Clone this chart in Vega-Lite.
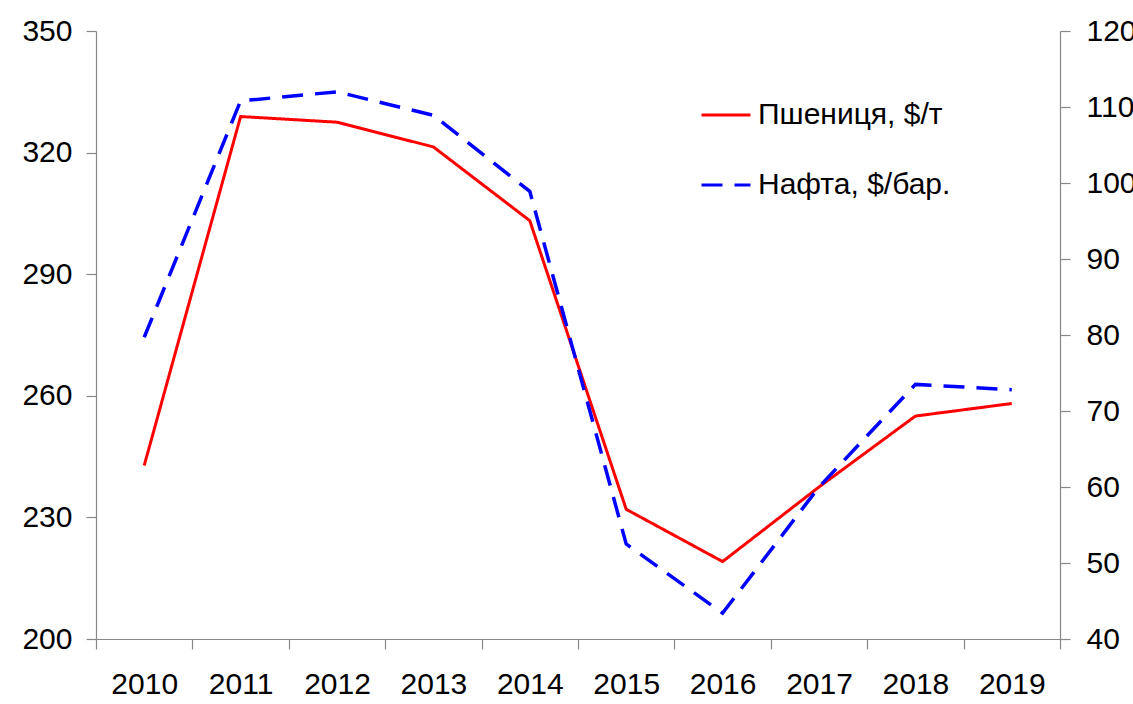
{
  "$schema": "https://vega.github.io/schema/vega-lite/v6.json",
  "width": 964,
  "height": 608,
  "autosize": {"type": "none"},
  "padding": {"left": 96, "top": 31, "right": 73, "bottom": 65},
  "background": "white",
  "config": {
    "view": {"stroke": null},
    "font": "Liberation Sans",
    "axis": {
      "labelFont": "Liberation Sans",
      "labelFontSize": 30,
      "labelColor": "black",
      "domainColor": "#888888",
      "tickColor": "#888888",
      "domainWidth": 1.2,
      "tickWidth": 1.2,
      "tickSize": 10,
      "grid": false,
      "title": null
    }
  },
  "data": {
    "values": [
      {"year": "2010", "series": "Пшениця, $/т", "value": 242.8},
      {"year": "2011", "series": "Пшениця, $/т", "value": 328.9},
      {"year": "2012", "series": "Пшениця, $/т", "value": 327.5},
      {"year": "2013", "series": "Пшениця, $/т", "value": 321.4},
      {"year": "2014", "series": "Пшениця, $/т", "value": 303.2},
      {"year": "2015", "series": "Пшениця, $/т", "value": 232.0},
      {"year": "2016", "series": "Пшениця, $/т", "value": 219.1},
      {"year": "2017", "series": "Пшениця, $/т", "value": 237.5},
      {"year": "2018", "series": "Пшениця, $/т", "value": 255.0},
      {"year": "2019", "series": "Пшениця, $/т", "value": 258.1},
      {"year": "2010", "series": "Нафта, $/бар.", "value": 79.7},
      {"year": "2011", "series": "Нафта, $/бар.", "value": 110.8},
      {"year": "2012", "series": "Нафта, $/бар.", "value": 112.0},
      {"year": "2013", "series": "Нафта, $/бар.", "value": 108.9},
      {"year": "2014", "series": "Нафта, $/бар.", "value": 98.9},
      {"year": "2015", "series": "Нафта, $/бар.", "value": 52.5},
      {"year": "2016", "series": "Нафта, $/бар.", "value": 43.4},
      {"year": "2017", "series": "Нафта, $/бар.", "value": 60.0},
      {"year": "2018", "series": "Нафта, $/бар.", "value": 73.5},
      {"year": "2019", "series": "Нафта, $/бар.", "value": 72.8}
    ]
  },
  "encoding": {
    "x": {
      "field": "year",
      "type": "ordinal",
      "bandPosition": 0.5,
      "scale": {"type": "band", "paddingInner": 0, "paddingOuter": 0},
      "axis": {"labelAngle": 0, "tickBand": "extent", "labelPadding": 20, "labelBaseline": "top"}
    },
    "color": {
      "field": "series",
      "type": "nominal",
      "scale": {"domain": ["Пшениця, $/т", "Нафта, $/бар."], "range": ["#ff0000", "#0000ff"]},
      "legend": {
        "orient": "none",
        "legendX": 604,
        "legendY": 58,
        "title": null,
        "symbolType": "stroke",
        "symbolSize": 2401,
        "symbolStrokeWidth": 3,
        "labelFontSize": 30,
        "labelFont": "Liberation Sans",
        "labelColor": "black",
        "labelOffset": 6,
        "rowPadding": 29,
        "padding": 0,
        "labelLimit": 400
      }
    },
    "strokeDash": {
      "field": "series",
      "type": "nominal",
      "scale": {"domain": ["Пшениця, $/т", "Нафта, $/бар."], "range": [[1, 0], [21, 12]]},
      "legend": {
        "orient": "none",
        "legendX": 604,
        "legendY": 58,
        "title": null,
        "symbolType": "stroke",
        "symbolSize": 2401,
        "symbolStrokeWidth": 3,
        "labelFontSize": 30,
        "labelFont": "Liberation Sans",
        "labelColor": "black",
        "labelOffset": 6,
        "rowPadding": 29,
        "padding": 0,
        "labelLimit": 400
      }
    }
  },
  "layer": [
    {
      "transform": [{"filter": "datum.series === 'Пшениця, $/т'"}],
      "mark": {"type": "line", "strokeWidth": 3},
      "encoding": {
        "y": {
          "field": "value",
          "type": "quantitative",
          "scale": {"domain": [200, 350], "nice": false, "zero": false},
          "axis": {"orient": "left", "values": [200, 230, 260, 290, 320, 350], "labelPadding": 14}
        }
      }
    },
    {
      "transform": [{"filter": "datum.series === 'Нафта, $/бар.'"}],
      "mark": {"type": "line", "strokeWidth": 3.5},
      "encoding": {
        "y": {
          "field": "value",
          "type": "quantitative",
          "scale": {"domain": [40, 120], "nice": false, "zero": false},
          "axis": {"orient": "right", "values": [40, 50, 60, 70, 80, 90, 100, 110, 120], "labelPadding": 16}
        }
      }
    }
  ],
  "resolve": {"scale": {"y": "independent"}}
}
